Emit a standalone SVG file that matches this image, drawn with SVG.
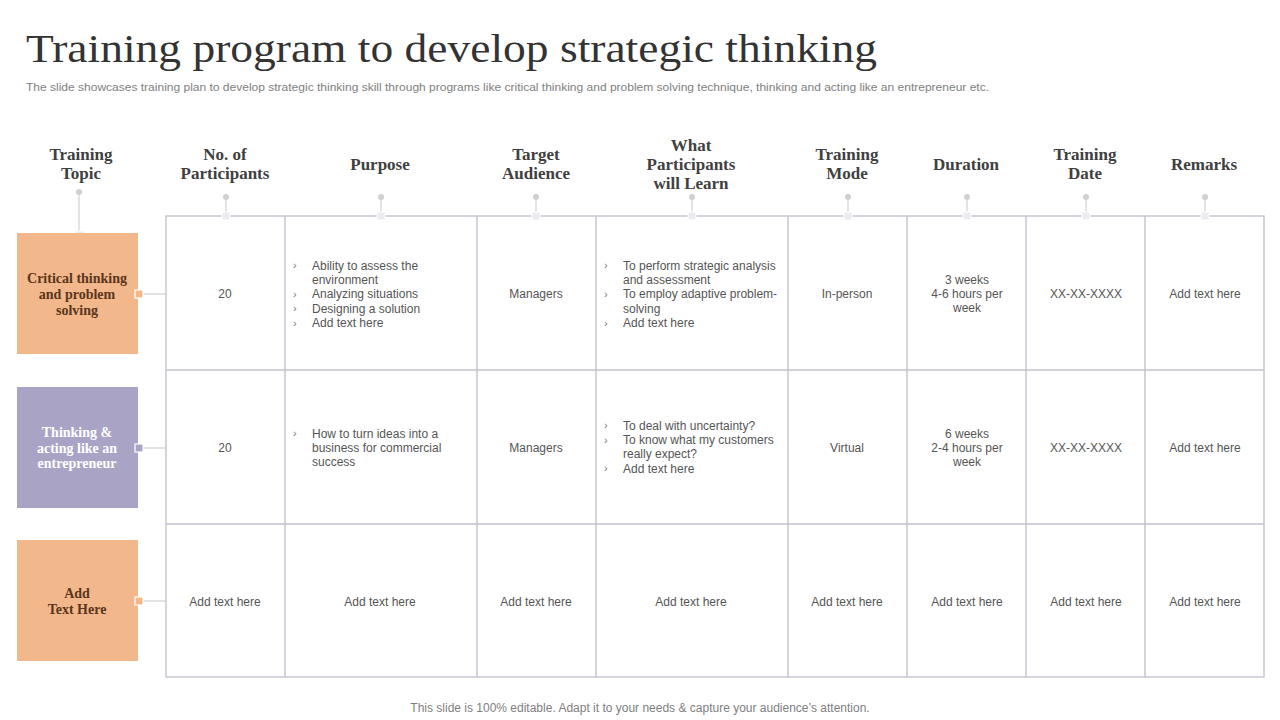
<svg xmlns="http://www.w3.org/2000/svg" width="1280" height="720" viewBox="0 0 1280 720">
<style>
.title{font-family:"Liberation Serif","DejaVu Serif",serif;font-size:40px;fill:#333333}
.sub{font-family:"Liberation Sans",Arial,sans-serif;font-size:11.5px;fill:#808080}
.foot{font-family:"Liberation Sans",Arial,sans-serif;font-size:12px;fill:#808080;text-anchor:middle}
.hd{font-family:"Liberation Serif","DejaVu Serif",serif;font-size:17px;font-weight:bold;fill:#404040;text-anchor:middle}
.cell{font-family:"Liberation Sans",Arial,sans-serif;font-size:12px;fill:#555555}
.c{text-anchor:middle}
.bul{font-family:"Liberation Sans",Arial,sans-serif;font-size:11px;fill:#777777}
.topic{font-family:"Liberation Serif","DejaVu Serif",serif;font-size:14px;font-weight:bold;text-anchor:middle}
.grid{stroke:#c2c2ce;stroke-width:1.4;fill:none}
.conn{stroke:#d0d0d0;stroke-width:1.2;fill:none}
.dot{fill:#d0d0d0}
.cap{fill:#ececf0;stroke:#ffffff;stroke-width:1}
</style>
<rect width="1280" height="720" fill="#ffffff"/>
<text class="title" x="26" y="62" textLength="851" lengthAdjust="spacingAndGlyphs">Training program to develop strategic thinking</text>
<text class="sub" x="26" y="91" textLength="963" lengthAdjust="spacingAndGlyphs">The slide showcases training plan to develop strategic thinking skill through programs like critical thinking and problem solving technique, thinking and acting like an entrepreneur etc.</text>

<g id="headers">
<text class="hd" x="81"><tspan x="81" y="160">Training</tspan><tspan x="81" y="179">Topic</tspan></text>
<text class="hd" x="225"><tspan x="225" y="160">No. of</tspan><tspan x="225" y="179">Participants</tspan></text>
<text class="hd" x="380" y="170">Purpose</text>
<text class="hd" x="536"><tspan x="536" y="160">Target</tspan><tspan x="536" y="179">Audience</tspan></text>
<text class="hd" x="691"><tspan x="691" y="151">What</tspan><tspan x="691" y="170">Participants</tspan><tspan x="691" y="189">will Learn</tspan></text>
<text class="hd" x="847"><tspan x="847" y="160">Training</tspan><tspan x="847" y="179">Mode</tspan></text>
<text class="hd" x="966" y="170">Duration</text>
<text class="hd" x="1085"><tspan x="1085" y="160">Training</tspan><tspan x="1085" y="179">Date</tspan></text>
<text class="hd" x="1204" y="170">Remarks</text>
</g>

<g id="table">
<rect class="grid" x="166" y="216" width="1098" height="461"/>
<line class="grid" x1="166" y1="370" x2="1264" y2="370"/>
<line class="grid" x1="166" y1="524" x2="1264" y2="524"/>
<line class="grid" x1="285" y1="216" x2="285" y2="677"/>
<line class="grid" x1="477" y1="216" x2="477" y2="677"/>
<line class="grid" x1="596" y1="216" x2="596" y2="677"/>
<line class="grid" x1="788" y1="216" x2="788" y2="677"/>
<line class="grid" x1="907" y1="216" x2="907" y2="677"/>
<line class="grid" x1="1026" y1="216" x2="1026" y2="677"/>
<line class="grid" x1="1145" y1="216" x2="1145" y2="677"/>
</g>

<g id="connectors">
<line class="conn" x1="79" y1="192" x2="79" y2="232"/>
<circle class="dot" cx="79" cy="192" r="3"/>
<rect class="cap" x="75" y="231" width="10" height="8"/>
<g id="colpins">
<line class="conn" x1="226" y1="197" x2="226" y2="214"/><circle class="dot" cx="226" cy="197" r="3"/><rect class="cap" x="222" y="212" width="8" height="8"/>
<line class="conn" x1="381" y1="197" x2="381" y2="214"/><circle class="dot" cx="381" cy="197" r="3"/><rect class="cap" x="377" y="212" width="8" height="8"/>
<line class="conn" x1="536" y1="197" x2="536" y2="214"/><circle class="dot" cx="536" cy="197" r="3"/><rect class="cap" x="532" y="212" width="8" height="8"/>
<line class="conn" x1="692" y1="197" x2="692" y2="214"/><circle class="dot" cx="692" cy="197" r="3"/><rect class="cap" x="688" y="212" width="8" height="8"/>
<line class="conn" x1="848" y1="197" x2="848" y2="214"/><circle class="dot" cx="848" cy="197" r="3"/><rect class="cap" x="844" y="212" width="8" height="8"/>
<line class="conn" x1="967" y1="197" x2="967" y2="214"/><circle class="dot" cx="967" cy="197" r="3"/><rect class="cap" x="963" y="212" width="8" height="8"/>
<line class="conn" x1="1086" y1="197" x2="1086" y2="214"/><circle class="dot" cx="1086" cy="197" r="3"/><rect class="cap" x="1082" y="212" width="8" height="8"/>
<line class="conn" x1="1205" y1="197" x2="1205" y2="214"/><circle class="dot" cx="1205" cy="197" r="3"/><rect class="cap" x="1201" y="212" width="8" height="8"/>
</g>
<line class="conn" x1="142" y1="294" x2="166" y2="294"/>
<line class="conn" x1="142" y1="448" x2="166" y2="448"/>
<line class="conn" x1="142" y1="601" x2="166" y2="601"/>
</g>

<g id="topic1">
<rect x="17" y="233" width="121" height="121" fill="#F2B78A"/>
<rect x="135" y="290" width="8" height="8" fill="#F2B78A" stroke="#ffffff" stroke-width="1.2"/>
<text class="topic" fill="#5a3520"><tspan x="77" y="283">Critical  thinking</tspan><tspan x="77" y="299">and problem</tspan><tspan x="77" y="315">solving</tspan></text>
</g>
<g id="topic2">
<rect x="17" y="387" width="121" height="121" fill="#A9A4C5"/>
<rect x="135" y="444" width="8" height="8" fill="#A9A4C5" stroke="#ffffff" stroke-width="1.2"/>
<text class="topic" fill="#ffffff"><tspan x="77" y="437">Thinking &amp;</tspan><tspan x="77" y="453">acting like an</tspan><tspan x="77" y="468">entrepreneur</tspan></text>
</g>
<g id="topic3">
<rect x="17" y="540" width="121" height="121" fill="#F2B78A"/>
<rect x="135" y="597" width="8" height="8" fill="#F2B78A" stroke="#ffffff" stroke-width="1.2"/>
<text class="topic" fill="#5a3520"><tspan x="77" y="598">Add</tspan><tspan x="77" y="614">Text Here</tspan></text>
</g>

<g id="row1">
<text class="cell c" x="225" y="298">20</text>
<text class="bul" x="293" y="269">›</text><text class="cell" x="312" y="269.5">Ability to assess the</text>
<text class="cell" x="312" y="284">environment</text>
<text class="bul" x="293" y="298">›</text><text class="cell" x="312" y="298">Analyzing situations</text>
<text class="bul" x="293" y="312">›</text><text class="cell" x="312" y="312.5">Designing a solution</text>
<text class="bul" x="293" y="327">›</text><text class="cell" x="312" y="327">Add text here</text>
<text class="cell c" x="536" y="298">Managers</text>
<text class="bul" x="604" y="269">›</text><text class="cell" x="623" y="269.5">To perform strategic analysis</text>
<text class="cell" x="623" y="284">and assessment</text>
<text class="bul" x="604" y="298">›</text><text class="cell" x="623" y="298">To employ adaptive problem-</text>
<text class="cell" x="623" y="312.5">solving</text>
<text class="bul" x="604" y="327">›</text><text class="cell" x="623" y="327">Add text here</text>
<text class="cell c" x="847" y="298">In-person</text>
<text class="cell c" x="967" y="284">3 weeks</text>
<text class="cell c" x="967" y="298">4-6 hours per</text>
<text class="cell c" x="967" y="312">week</text>
<text class="cell c" x="1086" y="298">XX-XX-XXXX</text>
<text class="cell c" x="1205" y="298">Add text here</text>
</g>

<g id="row2">
<text class="cell c" x="225" y="452">20</text>
<text class="bul" x="293" y="437">›</text><text class="cell" x="312" y="438">How to turn ideas into a</text>
<text class="cell" x="312" y="452">business for commercial</text>
<text class="cell" x="312" y="466">success</text>
<text class="cell c" x="536" y="452">Managers</text>
<text class="bul" x="604" y="429">›</text><text class="cell" x="623" y="429.5">To deal with uncertainty?</text>
<text class="bul" x="604" y="444">›</text><text class="cell" x="623" y="444">To know what my customers</text>
<text class="cell" x="623" y="458">really expect?</text>
<text class="bul" x="604" y="472">›</text><text class="cell" x="623" y="472.5">Add text here</text>
<text class="cell c" x="847" y="452">Virtual</text>
<text class="cell c" x="967" y="438">6 weeks</text>
<text class="cell c" x="967" y="452">2-4 hours per</text>
<text class="cell c" x="967" y="466">week</text>
<text class="cell c" x="1086" y="452">XX-XX-XXXX</text>
<text class="cell c" x="1205" y="452">Add text here</text>
</g>

<g id="row3">
<text class="cell c" x="225" y="606">Add text here</text>
<text class="cell c" x="380" y="606">Add text here</text>
<text class="cell c" x="536" y="606">Add text here</text>
<text class="cell c" x="691" y="606">Add text here</text>
<text class="cell c" x="847" y="606">Add text here</text>
<text class="cell c" x="967" y="606">Add text here</text>
<text class="cell c" x="1086" y="606">Add text here</text>
<text class="cell c" x="1205" y="606">Add text here</text>
</g>

<text class="foot" x="640" y="712">This slide is 100% editable. Adapt it to your needs &amp; capture your audience’s attention.</text>
</svg>
